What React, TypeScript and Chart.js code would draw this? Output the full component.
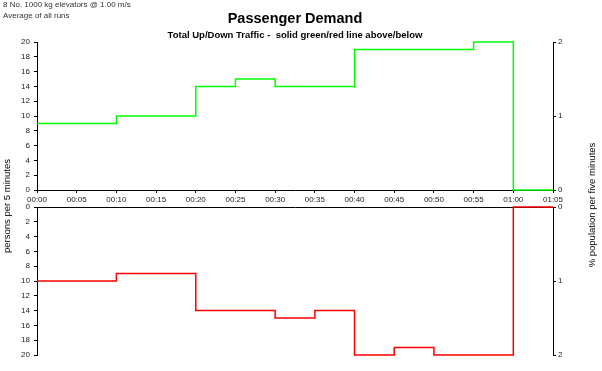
import React, { useEffect, useRef } from "react";
import { Chart, registerables } from "chart.js";

Chart.register(...registerables);

// ---- data ----
const timeMinutes = [0, 5, 10, 15, 20, 25, 30, 35, 40, 45, 50, 55, 60, 65];
const upTraffic = [9, 9, 10, 10, 14, 15, 14, 14, 19, 19, 19, 20, 0, 0];
const downTraffic = [10, 10, 9, 9, 14, 14, 15, 14, 20, 19, 20, 20, 0, 0];
const personsTicks = [0, 2, 4, 6, 8, 10, 12, 14, 16, 18, 20];
const percentTicks = [0, 1, 2];

const W = 602;
const H = 371;
const PLOT_LEFT = 37;
const PLOT_RIGHT = 553;
const FONT = "'Liberation Sans', Arial, sans-serif";
const TICK_COLOR = "#222";

const pad2 = (n: number) => String(n).padStart(2, "0");
const fmtTime = (v: number) => `${pad2(Math.floor(v / 60))}:${pad2(v % 60)}`;

function makeConfig(kind: "up" | "down"): any {
  const isUp = kind === "up";
  const values = isUp ? upTraffic : downTraffic;
  const top = isUp ? 42 : 207;
  const bottom = isUp ? 190 : 355;
  const xHeight = isUp ? 20 : 0;
  const tickFont = { family: FONT, size: 8 };
  return {
    type: "line",
    data: {
      datasets: [
        {
          data: timeMinutes.map((t, i) => ({ x: t, y: values[i] })),
          borderColor: isUp ? "#00ff00" : "#ff0000",
          borderWidth: 1.5,
          stepped: "before",
          pointRadius: 0,
          fill: false,
          clip: 4,
          yAxisID: "y",
        },
      ],
    },
    options: {
      responsive: false,
      animation: false,
      devicePixelRatio: 1,
      layout: {
        padding: { top, left: 0, right: 0, bottom: H - bottom - xHeight },
      },
      plugins: { legend: { display: false }, tooltip: { enabled: false }, title: { display: false } },
      scales: {
        x: {
          type: "linear",
          position: isUp ? "bottom" : "top",
          min: 0,
          max: 65,
          afterFit: (s: any) => {
            s.height = xHeight;
          },
          ticks: {
            display: isUp,
            stepSize: 5,
            autoSkip: false,
            maxRotation: 0,
            minRotation: 0,
            padding: 2,
            color: TICK_COLOR,
            font: tickFont,
            callback: (v: any) => fmtTime(Number(v)),
          },
          grid: {
            display: true,
            drawOnChartArea: false,
            drawTicks: isUp,
            tickLength: 3,
            color: "#000",
          },
          border: { display: true, color: "#000", width: 1 },
        },
        y: {
          type: "linear",
          position: "left",
          min: 0,
          max: 20,
          reverse: !isUp,
          afterFit: (s: any) => {
            s.width = PLOT_LEFT;
          },
          afterBuildTicks: (s: any) => {
            s.ticks = personsTicks.map((v) => ({ value: v }));
          },
          ticks: { padding: 4, color: TICK_COLOR, font: tickFont },
          grid: { drawOnChartArea: false, drawTicks: true, tickLength: 3, color: "#000" },
          border: { display: true, color: "#000", width: 1 },
        },
        y2: {
          type: "linear",
          position: "right",
          display: true,
          min: 0,
          max: 2,
          reverse: !isUp,
          afterFit: (s: any) => {
            s.width = W - PLOT_RIGHT;
          },
          afterBuildTicks: (s: any) => {
            s.ticks = percentTicks.map((v) => ({ value: v }));
          },
          ticks: { padding: 2, color: TICK_COLOR, font: tickFont },
          grid: { drawOnChartArea: false, drawTicks: true, tickLength: 3, color: "#000" },
          border: { display: true, color: "#000", width: 1 },
        },
      },
    },
  };
}

function ChartLayer({ kind }: { kind: "up" | "down" }) {
  const ref = useRef<HTMLCanvasElement | null>(null);
  useEffect(() => {
    if (!ref.current) return;
    const chart = new Chart(ref.current, makeConfig(kind));
    return () => chart.destroy();
  }, [kind]);
  return (
    <canvas
      ref={ref}
      width={W}
      height={H}
      style={{ position: "absolute", left: 0, top: 0, width: W, height: H }}
    />
  );
}

const textBase: React.CSSProperties = {
  position: "absolute",
  fontFamily: FONT,
  whiteSpace: "pre",
  lineHeight: 1,
};

export default function App() {
  return (
    <div
      style={{
        position: "fixed",
        left: 0,
        top: 0,
        width: W,
        height: H,
        background: "#fff",
        overflow: "hidden",
      }}
    >
      <ChartLayer kind="up" />
      <ChartLayer kind="down" />
      <div style={{ ...textBase, left: 3, top: 1, fontSize: 8, color: "#333" }}>
        8 No. 1000 kg elevators @ 1.00 m/s
      </div>
      <div style={{ ...textBase, left: 3, top: 12, fontSize: 8, color: "#333" }}>
        Average of all runs
      </div>
      <div
        style={{
          ...textBase,
          left: PLOT_LEFT,
          width: PLOT_RIGHT - PLOT_LEFT,
          top: 11,
          textAlign: "center",
          fontSize: 14.5,
          fontWeight: "bold",
          color: "#000",
        }}
      >
        Passenger Demand
      </div>
      <div
        style={{
          ...textBase,
          left: PLOT_LEFT,
          width: PLOT_RIGHT - PLOT_LEFT,
          top: 29.5,
          textAlign: "center",
          fontSize: 9.5,
          fontWeight: "bold",
          color: "#000",
        }}
      >
        {"Total Up/Down Traffic -  solid green/red line above/below"}
      </div>
      <div
        style={{
          ...textBase,
          left: 7 - 100,
          top: 206 - 6,
          width: 200,
          height: 12,
          lineHeight: "12px",
          textAlign: "center",
          fontSize: 9.5,
          color: "#000",
          transform: "rotate(-90deg)",
          transformOrigin: "50% 50%",
        }}
      >
        persons per 5 minutes
      </div>
      <div
        style={{
          ...textBase,
          left: 592 - 100,
          top: 205 - 6,
          width: 200,
          height: 12,
          lineHeight: "12px",
          textAlign: "center",
          fontSize: 9.5,
          color: "#000",
          transform: "rotate(-90deg)",
          transformOrigin: "50% 50%",
        }}
      >
        % population per five minutes
      </div>
    </div>
  );
}
